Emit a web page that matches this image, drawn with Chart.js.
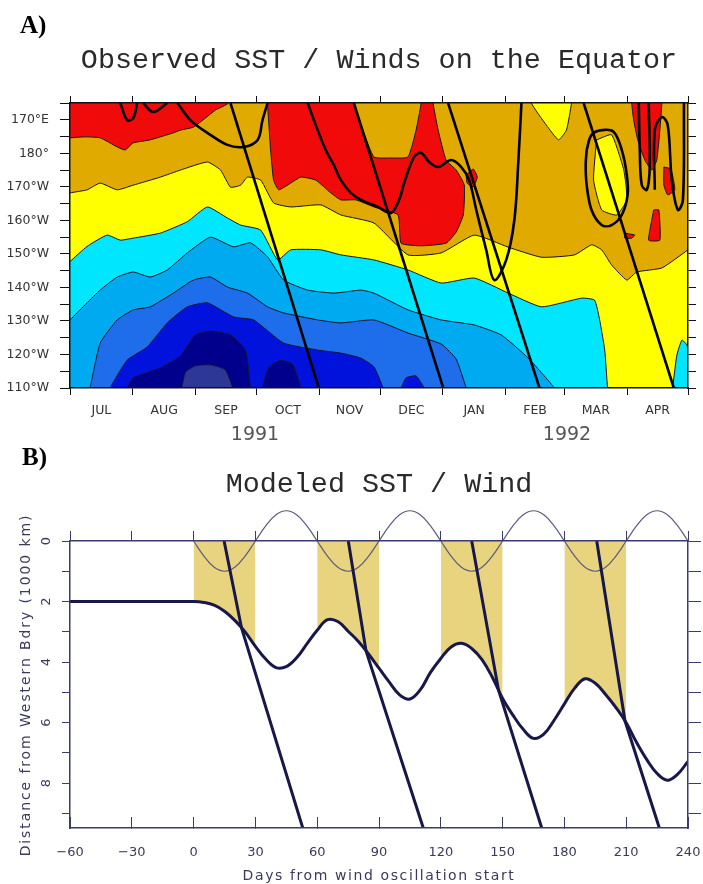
<!DOCTYPE html>
<html>
<head>
<meta charset="utf-8">
<title>Observed and modeled SST / wind</title>
<script src="https://cdn.jsdelivr.net/npm/chart.js@4.4.1/dist/chart.umd.min.js"></script>
<style>
  html, body { margin: 0; padding: 0; background: #fff; }
  #page { position: relative; width: 703px; height: 884px; overflow: hidden; }
  canvas { position: absolute; left: 0; }
  .tag { position: absolute; font: bold 25px 'Liberation Serif', serif; line-height: 30px; color: #000; }
  .ttl { position: absolute; left: 0; width: 758px; text-align: center; font: 28.4px 'Liberation Mono', monospace; line-height: 30px; color: #2a2a2a; white-space: nowrap; }
  .year { position: absolute; width: 80px; text-align: center; font: 19px 'DejaVu Sans', sans-serif; line-height: 22px; color: #555; }
  .axt { position: absolute; font: 14px 'DejaVu Sans', sans-serif; color: #3a3a5e; white-space: nowrap; transform: translate(-50%, -50%); }
</style>
</head>
<body>
<div id="page">
  <canvas id="sst" width="703" height="440" style="top:0"></canvas>
  <canvas id="model" width="703" height="444" style="top:440px"></canvas>
  <div class="tag" style="left:20px;top:10px">A)</div>
  <div class="ttl" style="top:46px">Observed SST / Winds on the Equator</div>
  <div class="year" style="left:215px;top:422px">1991</div>
  <div class="year" style="left:527px;top:422px">1992</div>
  <div class="tag" style="left:22px;top:442px">B)</div>
  <div class="ttl" style="top:470px">Modeled SST / Wind</div>
  <div class="axt" style="left:25px;top:685px;transform:translate(-50%,-50%) rotate(-90deg);letter-spacing:1.9px">Distance from Western Bdry (1000 km)</div>
  <div class="axt" style="left:379px;top:875px;letter-spacing:1.6px">Days from wind oscillation start</div>
</div>
<script>
Chart.defaults.font.family = "'DejaVu Sans', sans-serif";

// ---- panel A: x = days since 1 Jul 1991, y = longitude in degrees east ----
const monthEdges = [0, 31, 62, 92, 123, 153, 184, 215, 244, 275, 305];
const monthNames = ['JUL', 'AUG', 'SEP', 'OCT', 'NOV', 'DEC', 'JAN', 'FEB', 'MAR', 'APR'];
const lonTicks = [165, 170, 175, 180, 185, 190, 195, 200, 205, 210, 215, 220, 225, 230, 235, 240, 245, 250];

// contour edges, [day, lon]; each colour fills everything west (above) of its edge
const navyEdge = [[0,252],[27,252],[28.2,250],[31.2,247],[34.7,246.1],[44.6,244],[54.5,240.5],[61.9,234.2],[69.3,233],[79.2,234.2],[86.6,238.7],[89.1,250],[90,252],[94,252],[95,250],[98,244],[104,241.7],[110,243],[113.9,250],[115,252],[305,252]];
const blueEdge = [[0,252],[19,252],[19.8,250],[28.2,241.7],[38.1,237.8],[48,230.6],[57.9,225.8],[67.8,224.6],[80.7,228.8],[90.6,229.7],[105.4,236.6],[122.3,238.7],[133.7,239.6],[143.6,241.1],[150,243.7],[154.5,250],[155,252],[161,252],[163.4,250],[165.8,247],[170.8,246.4],[174.8,250],[175.5,252],[305,252]];
const midBlueEdge = [[0,252],[9,252],[9.9,250],[14.9,236.6],[23.3,229.7],[31.2,226.7],[39.6,225.8],[51,221.7],[60.9,217.8],[69.3,216.9],[77.7,219.9],[87.6,221.7],[97.5,225.8],[105.4,227.6],[122.3,229.7],[133.7,230.6],[150,229.7],[166.8,233.6],[183.2,236.9],[190.6,241.4],[195.5,250],[196,252],[305,252]];
const lightBlueEdge = [[0,229.7],[8.4,224.6],[14.9,220.8],[23.3,216.9],[31.2,215.4],[39.6,216.9],[48,214.8],[57.9,209.7],[69.3,205],[80.7,207.9],[89.1,206.7],[97.5,210.9],[105.4,217.8],[117.3,220.8],[130.2,221.7],[143.6,220.8],[150,221.7],[166.8,226.7],[183.2,229.7],[199.5,231.2],[212.9,234.2],[226.2,241.1],[239.1,250],[240,252],[305,252]];
const cyanEdge = [[0,212.3],[8.4,207.8],[18.3,204.4],[24.8,205.9],[31.2,205.3],[44.6,203.8],[57.9,200.4],[67.8,196],[77.7,199.3],[84.2,201.4],[94.1,202.9],[102.5,211.8],[108.9,208.8],[123.8,208.8],[133.7,210.3],[150,211.8],[166.8,214.8],[183.2,218.7],[199.5,217.2],[216.3,221.7],[232.7,225.8],[252.5,223.2],[258.9,223.8],[261.4,229.7],[263.9,238.7],[265.3,250],[266,252],[305,252]];
const yellowEdge = [[0,191.8],[8.4,190.9],[14.9,188.9],[23.3,190.9],[31.2,189.5],[44.6,187.1],[54.5,185],[67.8,182.6],[74.3,185],[79.2,190.1],[84.2,189.5],[87.6,187.1],[94.1,188],[100.5,194.8],[108.9,196],[123.8,195.4],[133.7,198.4],[150,200.8],[166.8,210.3],[183.2,209.7],[199.5,204.4],[216.3,208],[232.7,211],[249,210.3],[257.4,207.3],[262.4,208.8],[267.3,213.3],[274.8,217.8],[279.7,215.4],[292.1,214.2],[305,208.8]];

// closed patches
const slatePatch = [[54.5,252],[57,245.3],[61.9,243.4],[69.3,243.1],[76.7,244.6],[80.7,252],[54.5,252]];
const redPatches = [
  [[-3,160],[78.2,160],[78.2,165],[71.8,167.1],[66.8,169.5],[60.9,172.2],[54.5,173.1],[51,173.9],[39.6,176],[31.2,176.9],[27.2,179],[23.3,178.1],[14.9,175.4],[7.4,175.1],[0,175.4],[-3,175.4],[-3,160]],
  [[97.5,160],[140.1,160],[140.1,165],[144.6,173.1],[150,181.1],[158.4,181.4],[166.8,181.1],[170.8,173.1],[173.3,165],[173.3,160],[179.2,160],[179.2,165],[181.7,173.1],[185.6,182],[190.6,185],[194.6,189.5],[194.1,198.4],[190.6,203.5],[185.6,206.8],[173.3,207.6],[163.4,206.8],[161.9,198.4],[150,196],[141.1,193.9],[133.7,193.9],[128.7,191.8],[121.3,188],[113.9,187.1],[108.9,188.9],[103,190.9],[100.5,188],[99,179],[98,170.1],[97.5,165],[97.5,160]],
  [[195.5,186.5],[199,184.7],[201,187.1],[199,190],[196,188.9],[195.5,186.5]],
  [[277.2,160],[292.1,160],[292.1,165],[291.1,173.1],[289.6,182],[287.1,185],[283.7,182],[280.2,176],[278.2,170.1],[277.2,165],[277.2,160]],
  [[293.1,184.1],[296.5,184.7],[298.5,190.9],[295,192.4],[293.1,189.5],[293.1,184.1]],
  [[288.1,196.9],[290.6,196.9],[291.1,205.9],[285.6,205.9],[288.1,196.9]],
  [[273.8,203.8],[278.7,204.4],[277.2,205.3],[273.8,205.3],[273.8,203.8]]
];
const yellowPatches = [
  [[227.7,160],[247.5,160],[247.5,165],[245,173.1],[241.1,176],[235.1,171.6],[227.7,165],[227.7,160]],
  [[259.9,176],[267.3,174.5],[273.3,185],[274.8,193.9],[269.8,198.4],[262.4,196.9],[258.4,188],[259.9,176]]
];
const cyanPatch = [[297,252],[299.5,240.2],[302,235.7],[304.5,237.2],[306,241.7],[308,252],[297,252]];

// wind contours (thick black)
const windLines = [
  [[79.2,165],[122.8,250]],
  [[140.1,165],[184.2,250]],
  [[186.6,165],[231.7,250]],
  [[253.5,165],[298,250]]
];
const windLoops = [
  [[24.8,165],[28.2,170.1],[31.2,169.5],[33.2,165]],
  [[36.1,165],[41.1,167.7],[48,165]],
  [[53,165],[59.4,170.1],[67.8,173.9],[77.7,177.5],[85.6,178.1],[92.6,176],[95,170.1],[97.5,165]],
  [[117.3,165],[121.3,171.6],[126.2,179],[130.2,183.5],[133.7,188],[138.6,191.8],[143.6,193.9],[152,196],[158.4,197.8],[162.4,193.9],[164.9,188.9],[169.8,181.1],[173.3,179.9],[177.2,182.6],[181.7,184.1],[188.1,182],[193.1,184.1],[197,188],[200.5,196.9],[205.4,208.8],[209.4,217.8],[215.3,211.8],[219.3,199.9],[221.3,182],[222.8,165]],
  [[255,179],[257.4,174.5],[262.4,173.1],[268.3,173.6],[272.3,179],[274.8,186.5],[275.2,192.4],[272.3,198.4],[267.3,201.4],[262.4,201.4],[257.4,196.9],[255,189.5],[254.5,183.5],[255,179]],
  [[280.7,165],[281.2,179],[282.2,189.5],[284.7,190.9],[286.1,184.1],[285.6,165]],
  [[288.6,190.9],[288.6,173.1],[292.1,169.2],[295,171.6],[297,188],[300,196.9],[302.5,193.9],[303,165]]
];

// ---- panel B ----
const dayTicks = [-60, -30, 0, 30, 60, 90, 120, 150, 180, 210, 240];
const distTicks = [0, 1, 2, 3, 4, 5, 6, 7, 8, 9];
const frontDays = [-60, -30, 0, 5, 10, 15, 20, 25, 30, 35, 40, 45, 50, 55, 60, 65, 70, 75, 80, 85, 90, 95, 100, 105, 110, 115, 120, 125, 130, 135, 140, 145, 150, 155, 160, 165, 170, 175, 180, 185, 190, 195, 200, 205, 210, 215, 220, 225, 230, 235, 240];
const frontDist = [2, 2, 2, 2.03, 2.12, 2.32, 2.62, 3.0, 3.48, 3.9, 4.18, 4.15, 3.86, 3.4, 2.95, 2.6, 2.66, 2.98, 3.32, 3.74, 4.2, 4.66, 5.08, 5.22, 4.92, 4.34, 3.88, 3.5, 3.38, 3.55, 3.92, 4.5, 5.2, 5.75, 6.22, 6.52, 6.38, 5.92, 5.38, 4.86, 4.55, 4.7, 5.07, 5.5, 6.0, 6.65, 7.22, 7.68, 7.9, 7.7, 7.28];
const windDays = [0, 5, 10, 15, 20, 25, 30, 35, 40, 45, 50, 55, 60, 65, 70, 75, 80, 85, 90, 95, 100, 105, 110, 115, 120, 125, 130, 135, 140, 145, 150, 155, 160, 165, 170, 175, 180, 185, 190, 195, 200, 205, 210, 215, 220, 225, 230, 235, 240];
const windCurve = [0, 0.5, 0.87, 1, 0.87, 0.5, 0, -0.5, -0.87, -1, -0.87, -0.5, 0, 0.5, 0.87, 1, 0.87, 0.5, 0, -0.5, -0.87, -1, -0.87, -0.5, 0, 0.5, 0.87, 1, 0.87, 0.5, 0, -0.5, -0.87, -1, -0.87, -0.5, 0, 0.5, 0.87, 1, 0.87, 0.5, 0, -0.5, -0.87, -1, -0.87, -0.5, 0];
const shadeStarts = [0, 60, 120, 180];
const shadeLength = 30;
const kelvinLines = [
  [[14.8,0],[23.3,2.88],[53,9.48]],
  [[75.1,0],[83.7,3.63],[111.5,9.48]],
  [[135,0],[148,4.92],[169,9.48]],
  [[195.7,0],[209.4,5.94],[226.1,9.48]]
];

const toPts = arr => arr.map(([x, y]) => ({x, y}));

function lonLabel(v) {
  if (v % 10 !== 0) return '';
  if (v < 180) return v + '°E';
  if (v === 180) return '180°';
  return (360 - v) + '°W';
}

// paints the plot background (coldest water)
const plotBackground = {
  id: 'plotBackground',
  beforeDatasetsDraw(chart, args, opts) {
    if (!opts.color) return;
    const {ctx, chartArea: a} = chart;
    ctx.save();
    ctx.fillStyle = opts.color;
    ctx.fillRect(a.left, a.top, a.width, a.height);
    ctx.restore();
  }
};

function band(edge, color) {
  return { data: toPts(edge), fill: {value: 165}, backgroundColor: color, borderColor: '#141428', borderWidth: 1, tension: 0.15 };
}
function patch(shape, color, bw) {
  return { data: toPts(shape), fill: 'shape', backgroundColor: color, borderColor: '#141428', borderWidth: bw, tension: 0.15 };
}
function contour(line, w, t) {
  return { data: toPts(line), fill: false, borderColor: '#000', borderWidth: w, tension: t };
}

const sstSets = [
  band(navyEdge, '#0012dc'),
  patch(slatePatch, '#2d3796', 0.8),
  band(blueEdge, '#1e6eeb'),
  band(midBlueEdge, '#00aaf0'),
  band(lightBlueEdge, '#00e6ff'),
  band(cyanEdge, '#ffff00'),
  band(yellowEdge, '#e0aa00'),
  ...redPatches.map(p => patch(p, '#f00a0a', 1)),
  ...yellowPatches.map(p => patch(p, '#ffff00', 1)),
  patch(cyanPatch, '#00e6ff', 1),
  ...windLines.map(l => contour(l, 2.6, 0)),
  ...windLoops.map(l => contour(l, 2.6, 0.35))
];
// first dataset is painted first
sstSets.forEach((d, i) => { d.order = -i; });

const monthMids = monthEdges.slice(0, -1).map((d, i) => (d + monthEdges[i + 1]) / 2);
const monthTicks = monthEdges.flatMap((d, i) => i < monthMids.length ? [d, monthMids[i]] : [d]);

const axisA = '#111';
new Chart(document.getElementById('sst'), {
  type: 'line',
  data: { datasets: sstSets },
  options: {
    responsive: false,
    animation: false,
    events: [],
    elements: { point: { radius: 0 } },
    layout: { padding: { top: 95, left: 0, right: 0, bottom: 0 } },
    plugins: { legend: { display: false }, tooltip: { enabled: false }, plotBackground: { color: '#00008c' } },
    scales: {
      x: {
        type: 'linear', position: 'bottom', min: 0, max: 305,
        afterBuildTicks: s => { s.ticks = monthTicks.map(v => ({value: v})); },
        afterFit: s => { s.height = 52; },
        ticks: { autoSkip: false, maxRotation: 0, minRotation: 0, padding: 8, color: '#333', font: { size: 12.5 },
          callback: (v, i) => i % 2 === 1 ? monthNames[(i - 1) / 2] : '' },
        grid: { drawOnChartArea: false, tickLength: 7, tickColor: c => c.index % 2 === 1 ? 'rgba(0,0,0,0)' : axisA },
        border: { color: axisA, width: 1.5, z: 1 }
      },
      xT: {
        type: 'linear', position: 'top', min: 0, max: 305,
        afterBuildTicks: s => { s.ticks = monthEdges.map(v => ({value: v})); },
        afterFit: s => { s.height = 8; },
        ticks: { display: false },
        grid: { drawOnChartArea: false, tickLength: 7, tickColor: axisA },
        border: { color: axisA, width: 1.5, z: 1 }
      },
      y: {
        type: 'linear', position: 'left', reverse: true, min: 165, max: 250,
        afterBuildTicks: s => { s.ticks = lonTicks.map(v => ({value: v})); },
        afterFit: s => { s.width = 70; },
        ticks: { autoSkip: false, padding: 11, color: '#333', font: { size: 12.5 }, callback: v => lonLabel(v) },
        grid: { drawOnChartArea: false, tickLength: 10, tickColor: axisA },
        border: { color: axisA, width: 1.5, z: 1 }
      },
      yR: {
        type: 'linear', position: 'right', reverse: true, min: 165, max: 250,
        afterBuildTicks: s => { s.ticks = lonTicks.map(v => ({value: v})); },
        afterFit: s => { s.width = 15; },
        ticks: { display: false },
        grid: { drawOnChartArea: false, tickLength: 8, tickColor: axisA },
        border: { color: axisA, width: 1.5, z: 1 }
      }
    }
  },
  plugins: [plotBackground]
});

// ---- panel B chart ----
const frontPts = frontDays.map((d, i) => ({x: d, y: frontDist[i]}));
const lineB = '#17174a';
const axisB = '#3b3b6e';

const modelSets = [
  ...shadeStarts.map(s => ({
    data: frontPts.filter(p => p.x >= s && p.x <= s + shadeLength),
    fill: {value: 0}, backgroundColor: '#e8d37f', borderWidth: 0, tension: 0.4
  })),
  { data: windDays.map((d, i) => ({x: d, y: windCurve[i]})), borderColor: '#5c5c80', borderWidth: 1.2, tension: 0.4, fill: false, clip: false },
  { data: frontPts, borderColor: lineB, borderWidth: 3, tension: 0.4, fill: false },
  ...kelvinLines.map(l => ({ data: toPts(l), borderColor: lineB, borderWidth: 3, tension: 0, fill: false }))
];
modelSets.forEach((d, i) => { d.order = -i; });

new Chart(document.getElementById('model'), {
  type: 'line',
  data: { datasets: modelSets },
  options: {
    responsive: false,
    animation: false,
    events: [],
    elements: { point: { radius: 0 } },
    layout: { padding: { top: 91, left: 0, right: 0, bottom: 0 } },
    plugins: { legend: { display: false }, tooltip: { enabled: false } },
    scales: {
      x: {
        type: 'linear', position: 'bottom', min: -60, max: 240,
        afterBuildTicks: s => { s.ticks = dayTicks.map(v => ({value: v})); },
        // labels sit well below the inward ticks; keep that padding out of the side margins
        afterFit: s => { s.height = 56; s.paddingLeft = 0; s.paddingRight = 0; },
        ticks: { autoSkip: false, maxRotation: 0, minRotation: 0, padding: 28, color: '#3a3a5e', font: { size: 13 },
          callback: v => v < 0 ? '\u2212' + (-v) : String(v) },
        grid: { drawOnChartArea: false, tickLength: -11, tickColor: axisB, z: 1 },
        border: { color: axisB, width: 1.5, z: 1 }
      },
      xT: {
        type: 'linear', position: 'top', min: -60, max: 240,
        afterBuildTicks: s => { s.ticks = dayTicks.map(v => ({value: v})); },
        afterFit: s => { s.height = 10; },
        ticks: { display: false },
        grid: { drawOnChartArea: false, tickLength: 10, tickColor: axisB },
        border: { color: axisB, width: 1.5, z: 1 }
      },
      y: {
        type: 'linear', position: 'left', reverse: true, min: 0, max: 9.48,
        afterBuildTicks: s => { s.ticks = distTicks.map(v => ({value: v})); },
        afterCalculateLabelRotation: s => { s.labelRotation = 90; },
        afterFit: s => { s.width = 70; },
        ticks: { autoSkip: false, padding: 11, crossAlign: 'center', color: '#3a3a5e', font: { size: 13 },
          callback: v => v % 2 === 0 ? String(v) : '' },
        grid: { drawOnChartArea: false, tickLength: 8, tickColor: axisB },
        border: { color: axisB, width: 1.5, z: 1 }
      },
      yR: {
        type: 'linear', position: 'right', reverse: true, min: 0, max: 9.48,
        afterBuildTicks: s => { s.ticks = distTicks.map(v => ({value: v})); },
        afterFit: s => { s.width = 15; },
        ticks: { display: false },
        grid: { drawOnChartArea: false, tickLength: 13, tickColor: axisB },
        border: { color: axisB, width: 1.5, z: 1 }
      }
    }
  }
});
</script>
</body>
</html>
